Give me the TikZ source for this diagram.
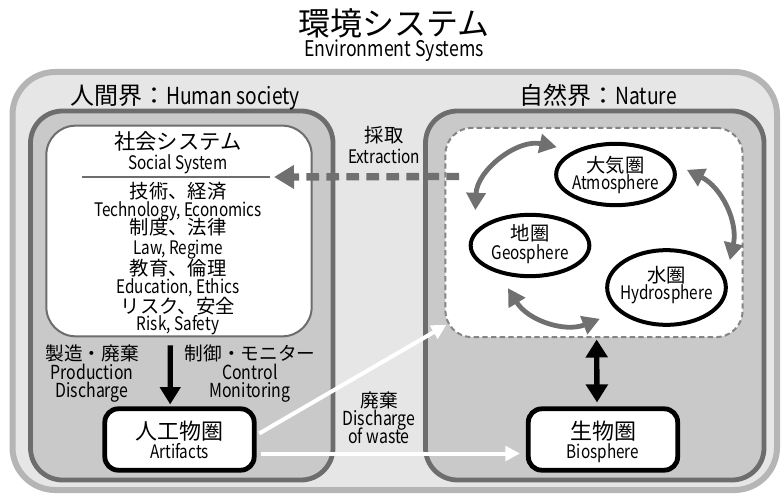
\documentclass[tikz,border=0pt]{standalone}
\usepackage{fontspec}
\setmainfont{Noto Sans CJK JP}
\newfontfamily\cond{Noto Sans CJK JP}[FakeStretch=0.82]
\usetikzlibrary{arrows.meta,shapes.geometric}
\definecolor{outerFill}{HTML}{E6E6E6}
\definecolor{outerLine}{HTML}{B5B5B5}
\definecolor{sideFill}{HTML}{C9C9C9}
\definecolor{sideLine}{HTML}{6D6D6D}
\definecolor{flowGray}{HTML}{707070}
\definecolor{dashGray}{HTML}{858585}
\begin{document}
\begin{tikzpicture}[x=0.75pt,y=-0.75pt,
  jptxt/.style={inner sep=0pt,text height=12pt,text depth=1pt,font=\fontsize{14.5}{15}\selectfont},
  entxt/.style={inner sep=0pt,text height=10pt,text depth=0pt,font=\cond\fontsize{14}{14}\selectfont},
  sphere/.style={ellipse,draw=black,line width=3pt,fill=white,minimum width=89pt,
    minimum height=46pt,inner sep=0pt},
  areabox/.style={rectangle,draw=black,line width=3.6pt,fill=white,rounded corners=10pt,
    minimum width=112pt,minimum height=46pt,inner sep=0pt},
  pairarrow/.style={flowGray,line width=3.6pt,
    {Triangle[length=13pt,width=14pt]}-{Triangle[length=13pt,width=14pt]}},
  blackarrow/.style={black,line width=4pt,-{Triangle[length=13pt,width=15pt]}},
  whitearrow/.style={white,line width=3pt,-{Triangle[length=11pt,width=11pt]}}]
\useasboundingbox (0,0) rectangle (781,495);

% title
\node[inner sep=0pt,font=\fontsize{24}{24}\selectfont] (title) at (394,23) {環境システム};
\node[entxt,font=\cond\fontsize{16.2}{16}\selectfont] (subtitle) at (394,50) {Environment Systems};

% containers
\draw[outerLine,fill=outerFill,line width=4.5pt,rounded corners=32pt] (12.5,72) rectangle (777,490);
\draw[sideLine,fill=sideFill,line width=3.6pt,rounded corners=24pt] (30.5,111) rectangle (333,480);
\draw[sideLine,fill=sideFill,line width=3.6pt,rounded corners=24pt] (425.5,111) rectangle (764,480);
\node[inner sep=0pt,text height=14pt,text depth=1pt,font=\fontsize{18}{18}\selectfont] (human) at (185,96)
  {人間界：{\cond\fontsize{17.6}{18}\selectfont Human society}};
\node[inner sep=0pt,text height=14pt,text depth=1pt,font=\fontsize{18}{18}\selectfont] (naturelabel) at (598,96)
  {自然界：{\cond\fontsize{17.6}{18}\selectfont Nature}};

% social system
\node[draw=sideLine,line width=1.5pt,fill=white,rounded corners=22pt,minimum width=199pt,
  minimum height=158pt] (social) at (179,231) {};
\node[jptxt,font=\fontsize{16}{16}\selectfont] (soc) at (178,142) {社会システム};
\node[entxt] (socen) at (178,163) {Social System};
\draw[sideLine,line width=1.2pt] (82,177) -- (270,177);
\node[jptxt] (tech) at (178,191) {技術、経済};
\node[entxt] (techen) at (178,210) {Technology, Economics};
\node[jptxt] (law) at (178,227.5) {制度、法律};
\node[entxt] (lawen) at (178,247.5) {Law, Regime};
\node[jptxt] (edu) at (178,268.5) {教育、倫理};
\node[entxt] (eduen) at (178,287) {Education, Ethics};
\node[jptxt] (risk) at (178,306.5) {リスク、安全};
\node[entxt] (risken) at (178,324) {Risk, Safety};

% nature
\node[draw=dashGray,line width=1.5pt,dash pattern=on 4pt off 2.5pt,fill=white,rounded corners=20pt,
  minimum width=223pt,minimum height=157pt] (nature) at (594,232.5) {};
\node[sphere] (atmo) at (615.5,174.5) {};
\node[jptxt] (atmojp) at ([yshift=7pt]atmo.center) {大気圏};
\node[entxt] (atmoen) at ([yshift=-6.5pt]atmo.center) {Atmosphere};
\node[sphere] (geo) at (530,245.5) {};
\node[jptxt] (geojp) at ([yshift=9.5pt]geo.center) {地圏};
\node[entxt] (geoen) at ([yshift=-5.5pt]geo.center) {Geosphere};
\node[sphere,minimum height=56pt] (hydro) at (666.5,287.5) {};
\node[jptxt] (hydrojp) at ([yshift=9.5pt]hydro.center) {水圏};
\node[entxt] (hydroen) at ([yshift=-4pt]hydro.center) {Hydrosphere};
\draw[pairarrow] ([shift={(-41pt,26.5pt)}]geo.center) to[bend left=50] ([shift={(-44pt,20.5pt)}]atmo.center);
\draw[pairarrow] ([shift={(53.5pt,3.5pt)}]atmo.center) to[bend left=38] ([shift={(47.5pt,20.5pt)}]hydro.center);
\draw[pairarrow] ([shift={(-16.5pt,-32pt)}]geo.center) to[bend right=40] ([shift={(-50pt,-23.5pt)}]hydro.center);

% extraction
\node[jptxt] (ext) at (384,135) {採取};
\node[entxt] (exten) at (384,157) {Extraction};
\draw[flowGray,line width=5.5pt,dash pattern=on 9.5pt off 5.5pt,-{Triangle[length=15pt,width=17pt]}]
  ([xshift=11pt,yshift=42pt]nature.west) -- ([xshift=-29pt,yshift=40.5pt]social.east);

% artifacts and biosphere
\node[areabox] (artifacts) at (179.5,439.5) {};
\node[jptxt,font=\fontsize{16.5}{16}\selectfont] (artjp) at ([yshift=5.5pt]artifacts.center) {人工物圏};
\node[entxt] (arten) at ([yshift=-9.5pt]artifacts.center) {Artifacts};
\node[areabox] (bio) at (603,439.5) {};
\node[jptxt,font=\fontsize{16.5}{16}\selectfont] (biojp) at ([yshift=5.5pt]bio.center) {生物圏};
\node[entxt] (bioen) at ([yshift=-9.5pt]bio.center) {Biosphere};
\draw[blackarrow] ([xshift=-6.5pt,yshift=-6pt]social.south) -- ([xshift=-7pt,yshift=1.5pt]artifacts.north);
\draw[black,line width=4pt,{Triangle[length=13.5pt,width=16pt]}-{Triangle[length=13.5pt,width=16pt]}]
  ([xshift=2pt,yshift=-1pt]nature.south) -- ([xshift=-4.5pt,yshift=3pt]bio.north);
\draw[whitearrow] ([shift={(2pt,4.5pt)}]artifacts.east) -- ([shift={(1.5pt,10pt)}]nature.south west);
\draw[whitearrow] ([shift={(3pt,-10.5pt)}]artifacts.east) -- ([shift={(-4.5pt,-10.5pt)}]bio.west);

% labels
\node[jptxt,font=\fontsize{14}{14}\selectfont] (prod) at (92,353) {製造・廃棄};
\node[entxt,font=\cond\fontsize{14.5}{14}\selectfont] (proden) at (92,373) {Production};
\node[entxt,font=\cond\fontsize{14.5}{14}\selectfont] (disch) at (92,391) {Discharge};
\node[jptxt,font=\fontsize{14}{14}\selectfont] (ctrl) at (250,353) {制御・モニター};
\node[entxt,font=\cond\fontsize{14.5}{14}\selectfont] (ctrlen) at (250,373) {Control};
\node[entxt,font=\cond\fontsize{14.5}{14}\selectfont] (moni) at (250,391) {Monitoring};
\node[jptxt,font=\fontsize{14}{14}\selectfont] (waste) at (379,400) {廃棄};
\node[entxt,font=\cond\fontsize{14.5}{14}\selectfont] (wasteen) at (379,419) {Discharge};
\node[entxt,font=\cond\fontsize{14.5}{14}\selectfont] (wasteof) at (379,437) {of waste};
\end{tikzpicture}
\end{document}
